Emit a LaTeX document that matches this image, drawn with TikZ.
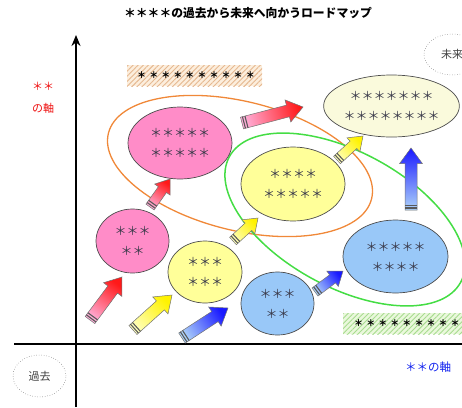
\documentclass[tikz,border=0pt]{standalone}
\usepackage{fontspec}
\setmainfont{Noto Sans CJK JP}
\usetikzlibrary{shapes.geometric,patterns.meta,arrows.meta}
\definecolor{pinkf}{HTML}{FF8CC8}
\definecolor{yelf}{HTML}{FFFF99}
\definecolor{bluef}{HTML}{99C8F8}
\definecolor{creamf}{HTML}{FAFADC}
\definecolor{orgline}{HTML}{F08838}
\definecolor{grnline}{HTML}{44DD44}
\definecolor{startxt}{HTML}{3A3A4A}
\definecolor{redlab}{HTML}{EE1111}
\definecolor{bluelab}{HTML}{1122EE}
\definecolor{obox}{HTML}{FCEEDD}
\definecolor{ohatch}{HTML}{E6B890}
\definecolor{gbox}{HTML}{EAF8DC}
\definecolor{ghatch}{HTML}{A8DC90}
\newcommand\barrow[5]{%
  \path (#1); \pgfgetlastxy{\bax}{\bay}%
  \path (#2); \pgfgetlastxy{\bbx}{\bby}%
  \pgfmathsetmacro\bang{atan2(\bby-\bay,\bbx-\bax)}%
  \pgfmathsetmacro\blen{veclen(\bbx-\bax,\bby-\bay)}%
  \pgfmathsetmacro\bsh{\bang-90}%
  \pgfmathsetmacro\bw{#5}%
  \pgfmathsetmacro\bH{1.9*#5}%
  \pgfmathsetmacro\bn{\blen-2.6*#5}%
  \begin{scope}[shift={(#1)},rotate=\bang,x=1pt,y=1pt]
    \draw[arrowline, top color=#4, bottom color=#3, shading angle=\bsh]
      (0,-\bw) -- (\bn,-\bw) -- (\bn,-\bH) -- (\blen,0) -- (\bn,\bH) -- (\bn,\bw) -- (0,\bw) -- cycle;
    \draw[black!65, line width=1.1pt] (2,-\bw) -- (2,\bw) (4.6,-\bw) -- (4.6,\bw);
  \end{scope}
}
\tikzset{
  bub/.style={ellipse, draw=black!70, line width=0.7pt, inner sep=0pt, align=center,
    font=\fontsize{12}{20}\selectfont, text=startxt},
  tag/.style={ellipse, draw=black!60, dotted, line width=0.5pt, inner sep=0pt,
    font=\fontsize{11}{13}\selectfont, text=black!75},
  hatchbox/.style={inner sep=0pt, font=\bfseries\fontsize{9}{12}\selectfont\addfontfeatures{LetterSpace=34}},
  arrowline/.style={draw=black!55, line width=0.5pt},
  axis/.style={line width=1.8pt, black}
}
\begin{document}
\begin{tikzpicture}[x=1pt,y=-1pt]
\useasboundingbox (0,0) rectangle (462,407);
% title
\node[font=\bfseries\fontsize{11.8}{13}\selectfont] (title) at (248,13) {＊＊＊＊の過去から未来へ向かうロードマップ};
% axes
\coordinate (yb) at (76,407);
\coordinate (yt) at (76,35);
\coordinate (xl) at (14,344);
\coordinate (xr) at (465,344);
\draw[axis] (xl) -- (xr);
\draw[axis, -{Stealth[length=11pt,width=9pt]}] (yb) -- (yt);
% axis labels
\node[text=redlab, font=\fontsize{11}{22}\selectfont, align=center] (ylab) at (43,98) {＊＊\\の軸};
\node[text=bluelab, font=\fontsize{11.5}{13}\selectfont] (xlab) at (428,367) {＊＊の軸};
\node[tag, minimum width=53pt, minimum height=42pt] (past) at (39.5,376) {過去};
\node[tag, minimum width=56pt, minimum height=41pt] (future) at (452,54.5) {未来};
% hatched boxes
\node[hatchbox, minimum width=135pt, minimum height=21pt, fill=obox,
  postaction={pattern={Lines[angle=45,distance=3.6pt,line width=0.9pt]}, pattern color=ohatch}]
  (hb1) at (194.5,75.5) {\hspace{3pt}＊＊＊＊＊＊＊＊＊＊};
\node[hatchbox, minimum width=137pt, minimum height=21pt, fill=gbox,
  postaction={pattern={Lines[angle=45,distance=3.6pt,line width=0.9pt]}, pattern color=ghatch}]
  (hb2) at (411.5,323.5) {\hspace{3pt}＊＊＊＊＊＊＊＊＊＊};
% grouping ellipses
\draw[orgline, line width=1.3pt, rotate around={-14:(240,166)}] (240,166) ellipse [x radius=135.6, y radius=64.4];
\draw[grnline, line width=1.5pt, rotate around={-28.5:(345,219.5)}] (345,219.5) ellipse [x radius=131.6, y radius=67.6];
% bubbles
\node[bub, fill=pinkf, minimum width=104pt, minimum height=72pt] (p1) at (180,143) {＊＊＊＊＊\\＊＊＊＊＊};
\node[bub, fill=yelf, minimum width=104pt, minimum height=74pt] (y1) at (293,184) {＊＊＊＊\\＊＊＊＊＊};
\node[bub, fill=pinkf, minimum width=73pt, minimum height=64pt] (p2) at (132.5,241) {＊＊＊\\＊＊};
\node[bub, fill=yelf, minimum width=74pt, minimum height=62pt] (y2) at (205,272) {＊＊＊\\＊＊＊};
\node[bub, fill=bluef, minimum width=73pt, minimum height=63pt] (b1) at (277.5,303.5) {＊＊＊\\＊＊};
\node[bub, fill=bluef, minimum width=105pt, minimum height=73pt] (b2) at (395.5,256.5) {＊＊＊＊＊\\＊＊＊＊};
\node[bub, fill=creamf, minimum width=131pt, minimum height=62pt] (c1) at (391.5,106) {＊＊＊＊＊＊＊\\＊＊＊＊＊＊＊＊};
% arrow end points
\coordinate (a1s) at (90,320);  \coordinate (a1e) at (122,277);
\coordinate (a2s) at (150,207); \coordinate (a2e) at (170,179);
\coordinate (a3s) at (242,123); \coordinate (a3e) at (303,107);
\coordinate (a4s) at (133,330); \coordinate (a4e) at (172,295);
\coordinate (a5s) at (233,241); \coordinate (a5e) at (258,218);
\coordinate (a6s) at (337,160); \coordinate (a6e) at (363,136);
\coordinate (a7s) at (182,338); \coordinate (a7e) at (228,308);
\coordinate (a8s) at (315,292); \coordinate (a8e) at (343,271);
\coordinate (a9s) at (411,210); \coordinate (a9e) at (411,148);
\barrow{a1s}{a1e}{pinkf!70}{red!90}{6}
\barrow{a2s}{a2e}{pinkf!70}{red!90}{5}
\barrow{a3s}{a3e}{pinkf!70}{red!90}{6}
\barrow{a4s}{a4e}{yellow!25}{yellow!90!orange}{6}
\barrow{a5s}{a5e}{yellow!25}{yellow!90!orange}{5}
\barrow{a6s}{a6e}{yellow!25}{yellow!90!orange}{5}
\barrow{a7s}{a7e}{bluef!80}{blue!90}{6}
\barrow{a8s}{a8e}{bluef!80}{blue!90}{5}
\barrow{a9s}{a9e}{bluef!80}{blue!90}{6}
\end{tikzpicture}
\end{document}
